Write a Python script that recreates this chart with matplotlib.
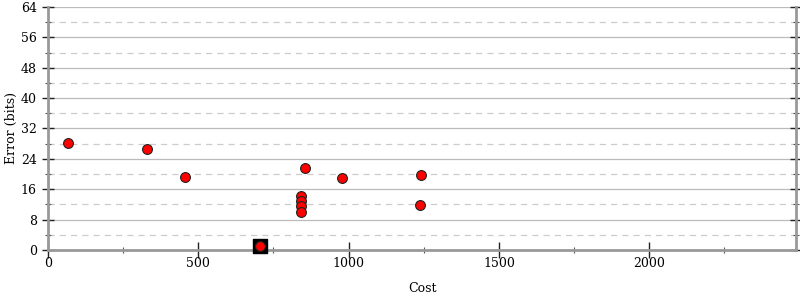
import matplotlib
matplotlib.use("Agg")
import matplotlib.pyplot as plt
import numpy as np

# candidate points
cost = [65, 328, 457, 854, 978, 1242, 1237, 841, 840, 840, 840, 705]
error = [28.2, 26.6, 19.3, 21.5, 19.0, 19.7, 11.8, 14.2, 12.9, 11.6, 10.0, 1.0]
# best point (boxed)
best_cost = [705]
best_error = [1.0]

plt.rcParams['font.family'] = ['DejaVu Serif']
fig = plt.figure(figsize=(8, 3), dpi=100)
ax = fig.add_axes([0.06, 0.1667, 0.935, 0.81])

gray = '#999999'
ax.set_xlim(0, 2488)
ax.set_ylim(0, 64)
ax.set_xticks(np.arange(0, 2001, 500))
ax.set_xticks(np.arange(250, 2488, 500), minor=True)
ax.set_yticks(np.arange(0, 65, 8))
ax.set_yticks(np.arange(4, 64, 8), minor=True)
ax.grid(True, axis='y', which='major', color='#bbbbbb', lw=0.9)
ax.grid(True, axis='y', which='minor', color='#cccccc', lw=0.9, ls=(0, (5, 4)))
ax.set_axisbelow(True)

for s in ['left', 'right', 'bottom']:
    ax.spines[s].set_color(gray)
    ax.spines[s].set_linewidth(2)
ax.spines['top'].set_visible(False)
ax.tick_params(which='major', direction='inout', length=9, width=1, color='#222222',
               labelsize=9, right=True)
ax.tick_params(which='minor', direction='inout', length=5, width=0.8, color='#555555', right=True)
ax.tick_params(axis='x', which='major', length=12, pad=-1)
ax.set_xlabel('Cost', fontsize=9, labelpad=9)
ax.set_ylabel('Error (bits)', fontsize=9, labelpad=2)

ax.scatter(best_cost, best_error, marker='s', s=110, c='black', zorder=3, clip_on=False)
ax.scatter(cost, error, marker='o', s=50, c='#ff0000', edgecolors='#222222',
           linewidths=0.8, zorder=4, clip_on=False)

fig.savefig('out.png', dpi=100)
